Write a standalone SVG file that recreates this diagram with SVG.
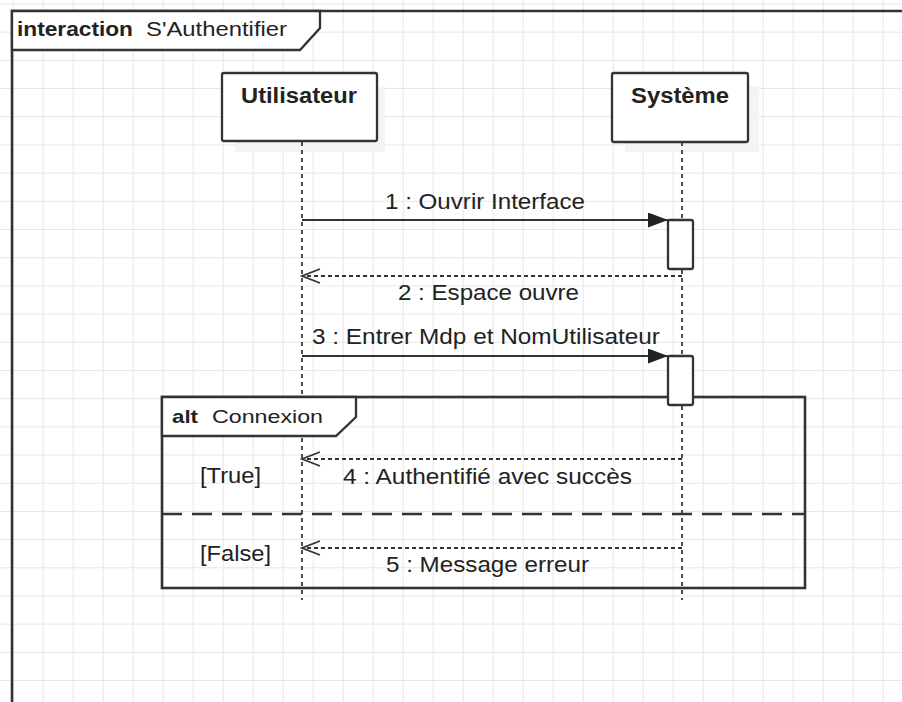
<svg xmlns="http://www.w3.org/2000/svg" width="902" height="702" viewBox="0 0 902 702">
<defs>
<pattern id="grid" x="12.7" y="3.5" width="30" height="28.19" patternUnits="userSpaceOnUse">
<path d="M0,0 H30 M0,0 V28.19" fill="none" stroke="#e6e6e6" stroke-width="2"/>
</pattern>
<marker id="filled" markerUnits="userSpaceOnUse" markerWidth="22" markerHeight="17" refX="20" refY="7.5" orient="auto">
<path d="M0,0 L20,7.5 L0,15 Z" fill="#222"/>
</marker>
<marker id="open" markerUnits="userSpaceOnUse" markerWidth="22" markerHeight="18" refX="19" refY="8" orient="auto">
<path d="M1,1 L19,8 L1,15" fill="none" stroke="#333" stroke-width="1.8"/>
</marker>
</defs>
<style>
.frame{fill:none;stroke:#333;stroke-width:2.6}
.hdr{fill:#fff;stroke:#333;stroke-width:2.3}
.box{fill:#fff;stroke:#333;stroke-width:2.3}
.shadow{fill:#f4f4f4}
.life{stroke:#333;stroke-width:1.7;stroke-dasharray:4 4;fill:none}
.act{fill:#fff;stroke:#333;stroke-width:2.3}
.sync{stroke:#333;stroke-width:2.2;fill:none}
.reply{stroke:#333;stroke-width:2;stroke-dasharray:4 3;fill:none}
.sep{stroke:#333;stroke-width:2.6;stroke-dasharray:20 10;fill:none}
text{font-family:"Liberation Sans",Arial,sans-serif;fill:#222}
.b{font-weight:bold}
.t19{font-size:20px}
.t21{font-size:22px}
.t20{font-size:21.5px}
.t18{font-size:19px}
</style>
<rect width="902" height="702" fill="#fff"/>
<rect width="902" height="702" fill="url(#grid)"/>

<g id="frame">
<path class="frame" d="M12,702 V11 H902"/>
<path class="hdr" d="M12,11 H320 V28 L300,50 H12 Z"/>
<text class="t19 b" x="17" y="36" textLength="116" lengthAdjust="spacingAndGlyphs">interaction</text>
<text class="t19" x="146" y="36" textLength="141" lengthAdjust="spacingAndGlyphs">S'Authentifier</text>
</g>

<g id="lifeline-utilisateur">
<rect class="shadow" x="235" y="86" width="150" height="66"/>
<rect class="box" x="222" y="73" width="155" height="68" rx="2"/>
<text class="t21 b" x="241" y="103" textLength="116" lengthAdjust="spacingAndGlyphs">Utilisateur</text>
<line class="life" x1="302" y1="142" x2="302" y2="600"/>
</g>

<g id="lifeline-systeme">
<rect class="shadow" x="625" y="86" width="134" height="66"/>
<rect class="box" x="612" y="73" width="136" height="69" rx="2"/>
<text class="t21 b" x="631" y="103" textLength="98" lengthAdjust="spacingAndGlyphs">Système</text>
<line class="life" x1="682" y1="142" x2="682" y2="600"/>
</g>

<g id="alt-connexion">
<rect class="frame" x="162" y="397" width="643" height="191"/>
<path class="hdr" d="M162,397 H356 V417 L336,436 H162 Z"/>
<text class="t18 b" x="172" y="423" textLength="26" lengthAdjust="spacingAndGlyphs">alt</text>
<text class="t18" x="212" y="423" textLength="111" lengthAdjust="spacingAndGlyphs">Connexion</text>
<line class="sep" x1="162" y1="514" x2="805" y2="514"/>
<text class="t20" x="200" y="483" textLength="61" lengthAdjust="spacingAndGlyphs">[True]</text>
<text class="t20" x="200" y="561" textLength="71" lengthAdjust="spacingAndGlyphs">[False]</text>
</g>

<g id="activation-1">
<rect class="act" x="668" y="220" width="25" height="49" rx="2"/>
</g>
<g id="activation-2">
<rect class="act" x="668" y="356" width="25" height="49" rx="2"/>
</g>

<g id="connectors">
<line class="sync" x1="302" y1="220" x2="668" y2="220" marker-end="url(#filled)"/>
<text class="t20" x="385" y="209" textLength="200" lengthAdjust="spacingAndGlyphs">1 : Ouvrir Interface</text>
<line class="reply" x1="682" y1="276" x2="302" y2="276" marker-end="url(#open)"/>
<text class="t20" x="398" y="300" textLength="181" lengthAdjust="spacingAndGlyphs">2 : Espace ouvre</text>
<line class="sync" x1="302" y1="356" x2="668" y2="356" marker-end="url(#filled)"/>
<text class="t20" x="312" y="344" textLength="348" lengthAdjust="spacingAndGlyphs">3 : Entrer Mdp et NomUtilisateur</text>
<line class="reply" x1="682" y1="459" x2="302" y2="459" marker-end="url(#open)"/>
<text class="t20" x="343" y="484" textLength="289" lengthAdjust="spacingAndGlyphs">4 : Authentifié avec succès</text>
<line class="reply" x1="682" y1="548" x2="302" y2="548" marker-end="url(#open)"/>
<text class="t20" x="386" y="572" textLength="203" lengthAdjust="spacingAndGlyphs">5 : Message erreur</text>
</g>
</svg>
